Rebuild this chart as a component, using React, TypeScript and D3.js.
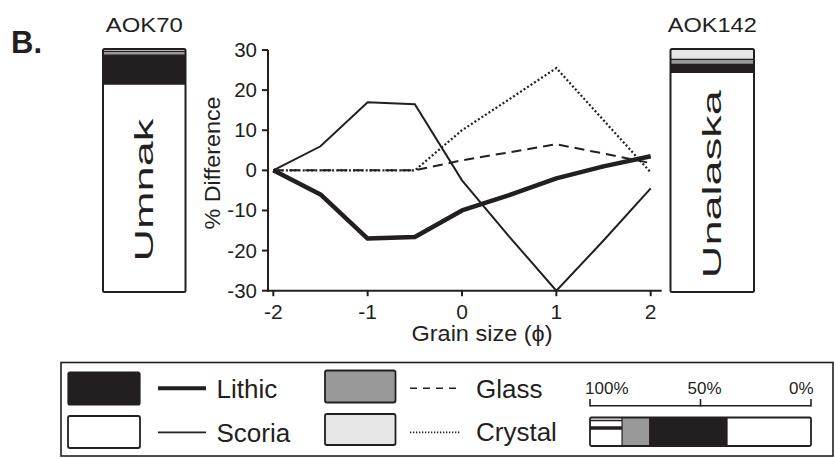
import React from "react";
import * as d3 from "d3";

// ---- data ----
const grainSize = [-2, -1.5, -1, -0.5, 0, 0.5, 1, 1.5, 2];
const lithic = [0, -6, -17, -16.6, -10, -6.2, -2, 1, 3.5];
const scoria = [0, 6, 17, 16.5, -2.5, -16.5, -30, -17.5, -4.5];
const glass = [0, 0, 0, 0, 2.5, 4.5, 6.5, 4.2, 1.8];
const crystal = [0, 0, 0, 0, 10, 17.7, 25.5, 12.5, -0.5];

const yTicks = [-30, -20, -10, 0, 10, 20, 30];
const xTicks = [-2, -1, 0, 1, 2];

const components = ["Crystal", "Glass", "Lithic", "Scoria"];
const compFill = ["#e6e6e6", "#999999", "#231f20", "#ffffff"];
// composition of each sample column (% from top)
const aok70 = [1, 1.5, 12, 85.5];
const aok142 = [4.3, 2, 3.3, 90.4];
// legend example bar (% from the 100% side)
const legendBar = [14.5, 12.5, 35, 38];
const pctTicks = [100, 50, 0];

const INK = "#231f20";
const FONT = "'Liberation Sans', Arial, Helvetica, sans-serif";

function Column({ x0, x1, values, label, labelLen, title, titleLen }) {
  const cy = d3.scaleLinear().domain([0, 100]).range([49, 292]);
  const stacks: { y0: number; y1: number; fill: string }[] = [];
  let acc = 0;
  values.forEach((v, i) => {
    stacks.push({ y0: cy(acc), y1: cy(acc + v), fill: compFill[i] });
    acc += v;
  });
  const whiteTop = stacks[3].y0;
  const cx = (x0 + x1) / 2;
  const ly = (whiteTop + 292) / 2 + 2;
  return (
    <g>
      {stacks.map((s, i) => (
        <rect key={i} x={x0} y={s.y0} width={x1 - x0} height={Math.max(0, s.y1 - s.y0)} fill={s.fill} />
      ))}
      {stacks.slice(1).map((s, i) => (
        <line key={"b" + i} x1={x0} x2={x1} y1={s.y0} y2={s.y0} stroke={INK} strokeWidth={1.2} />
      ))}
      <rect x={x0} y={49} width={x1 - x0} height={243} fill="none" stroke={INK} strokeWidth={2} rx={1.5} />
      <text
        transform={`translate(${cx + 9},${ly}) rotate(-90)`}
        textAnchor="middle"
        fontSize={25}
        fontFamily={FONT}
        fill={INK}
        textLength={labelLen}
        lengthAdjust="spacingAndGlyphs"
      >
        {label}
      </text>
      <text x={cx} y={31.5} textAnchor="middle" fontSize={20.5} fontFamily={FONT} fill={INK} textLength={titleLen} lengthAdjust="spacingAndGlyphs">
        {title}
      </text>
    </g>
  );
}

export default function App() {
  const x = d3.scaleLinear().domain([-2, 2]).range([273.3, 650.7]);
  const y = d3.scaleLinear().domain([-30, 30]).range([290.7, 50]);
  const line = d3
    .line<number>()
    .x((_, i) => x(grainSize[i]))
    .y((d) => y(d));

  const pct = d3.scaleLinear().domain([100, 0]).range([590, 811]);
  const barSegs: { x0: number; x1: number; fill: string }[] = [];
  let acc = 100;
  legendBar.forEach((v, i) => {
    barSegs.push({ x0: pct(acc), x1: pct(acc - v), fill: compFill[i] });
    acc -= v;
  });

  return (
    <svg width={836} height={458} style={{ position: "absolute", left: 0, top: 0, background: "#fff" }}>
      <rect width={836} height={458} fill="#fff" />
      <text x={11} y={53} fontSize={31} fontWeight="bold" fontFamily={FONT} fill={INK}>
        B.
      </text>

      <Column x0={103} x1={185.5} values={aok70} label="Umnak" labelLen={143} title="AOK70" titleLen={77} />
      <Column x0={670.5} x1={754} values={aok142} label="Unalaska" labelLen={188} title="AOK142" titleLen={89} />

      {/* axes */}
      <line x1={268} x2={268} y1={y(30)} y2={y(-30) + 1} stroke={INK} strokeWidth={2} />
      <line x1={267} x2={661.7} y1={y(-30)} y2={y(-30)} stroke={INK} strokeWidth={2} />
      {yTicks.map((t) => (
        <g key={t}>
          <line x1={262} x2={268} y1={y(t)} y2={y(t)} stroke={INK} strokeWidth={2} />
          <text x={257} y={y(t) + 7} textAnchor="end" fontSize={20.5} fontFamily={FONT} fill={INK}>
            {t}
          </text>
        </g>
      ))}
      {xTicks.map((t) => (
        <g key={t}>
          <line x1={x(t)} x2={x(t)} y1={y(-30)} y2={y(-30) + 5.5} stroke={INK} strokeWidth={2} />
          <text x={x(t)} y={318.5} textAnchor="middle" fontSize={21} fontFamily={FONT} fill={INK}>
            {t}
          </text>
        </g>
      ))}
      <text x={482} y={340.5} textAnchor="middle" fontSize={22} fontFamily={FONT} fill={INK} textLength={141} lengthAdjust="spacingAndGlyphs">
        Grain size (ϕ)
      </text>
      <text transform={`translate(220,163) rotate(-90)`} textAnchor="middle" fontSize={22.5} fontFamily={FONT} fill={INK} textLength={133} lengthAdjust="spacingAndGlyphs">
        % Difference
      </text>

      {/* series */}
      <path d={line(crystal) || ""} fill="none" stroke={INK} strokeWidth={2.2} strokeDasharray="2 2.2" />
      <path d={line(glass) || ""} fill="none" stroke={INK} strokeWidth={2} strokeDasharray="10 6" />
      <path d={line(scoria) || ""} fill="none" stroke={INK} strokeWidth={2} strokeLinejoin="miter" />
      <path d={line(lithic) || ""} fill="none" stroke={INK} strokeWidth={4.5} strokeLinejoin="round" />

      {/* legend */}
      <rect x={61} y={362.5} width={772} height={93.5} fill="none" stroke={INK} strokeWidth={1.6} />
      <rect x={68} y={372} width={72} height={33} rx={2} fill={compFill[2]} stroke={INK} strokeWidth={1.2} />
      <rect x={68} y={416} width={72} height={32} rx={2} fill={compFill[3]} stroke={INK} strokeWidth={1.8} />
      <line x1={158} x2={206} y1={388.3} y2={388.3} stroke={INK} strokeWidth={4} />
      <line x1={158} x2={206} y1={432.3} y2={432.3} stroke={INK} strokeWidth={1.8} />
      <text x={216.5} y={398} fontSize={26} fontFamily={FONT} fill={INK}>
        {components[2]}
      </text>
      <text x={216.5} y={441.5} fontSize={26} fontFamily={FONT} fill={INK}>
        {components[3]}
      </text>
      <rect x={325} y={370.5} width={70.5} height={32} rx={2} fill={compFill[1]} stroke={INK} strokeWidth={1.8} />
      <rect x={325} y={414} width={70.5} height={31} rx={2} fill={compFill[0]} stroke={INK} strokeWidth={1.8} />
      <line x1={410} x2={460} y1={388.3} y2={388.3} stroke={INK} strokeWidth={1.6} strokeDasharray="7 6" />
      <line x1={410} x2={460} y1={432.3} y2={432.3} stroke={INK} strokeWidth={1.8} strokeDasharray="1.3 1.7" />
      <text x={476} y={397.5} fontSize={26} fontFamily={FONT} fill={INK}>
        {components[1]}
      </text>
      <text x={476} y={441} fontSize={26} fontFamily={FONT} fill={INK}>
        {components[0]}
      </text>

      {/* percent scale */}
      <line x1={pct(100)} x2={pct(0)} y1={405.7} y2={405.7} stroke={INK} strokeWidth={1.6} />
      {pctTicks.map((p, i) => (
        <g key={p}>
          <line x1={pct(p)} x2={pct(p)} y1={399} y2={406.5} stroke={INK} strokeWidth={1.6} />
          <text
            x={i === 0 ? pct(p) - 5 : i === 2 ? pct(p) + 2.5 : pct(p) + 4}
            y={393.5}
            textAnchor={i === 0 ? "start" : i === 2 ? "end" : "middle"}
            fontSize={17}
            fontFamily={FONT}
            fill={INK}
          >
            {p}%
          </text>
        </g>
      ))}
      {barSegs.map((s, i) => (
        <rect key={i} x={s.x0} y={417.5} width={s.x1 - s.x0} height={28.5} fill={s.fill === "#e6e6e6" ? "#fff" : s.fill} />
      ))}
      <line x1={barSegs[0].x0} x2={barSegs[0].x1} y1={420.5} y2={420.5} stroke={INK} strokeWidth={1.3} />
      <line x1={barSegs[0].x0} x2={barSegs[0].x1} y1={428} y2={428} stroke={INK} strokeWidth={3.5} />
      {barSegs.slice(1).map((s, i) => (
        <line key={"s" + i} x1={s.x0} x2={s.x0} y1={417.5} y2={446} stroke={INK} strokeWidth={1.2} />
      ))}
      <rect x={pct(100)} y={417.5} width={pct(0) - pct(100)} height={28.5} rx={1.5} fill="none" stroke={INK} strokeWidth={1.8} />
    </svg>
  );
}
